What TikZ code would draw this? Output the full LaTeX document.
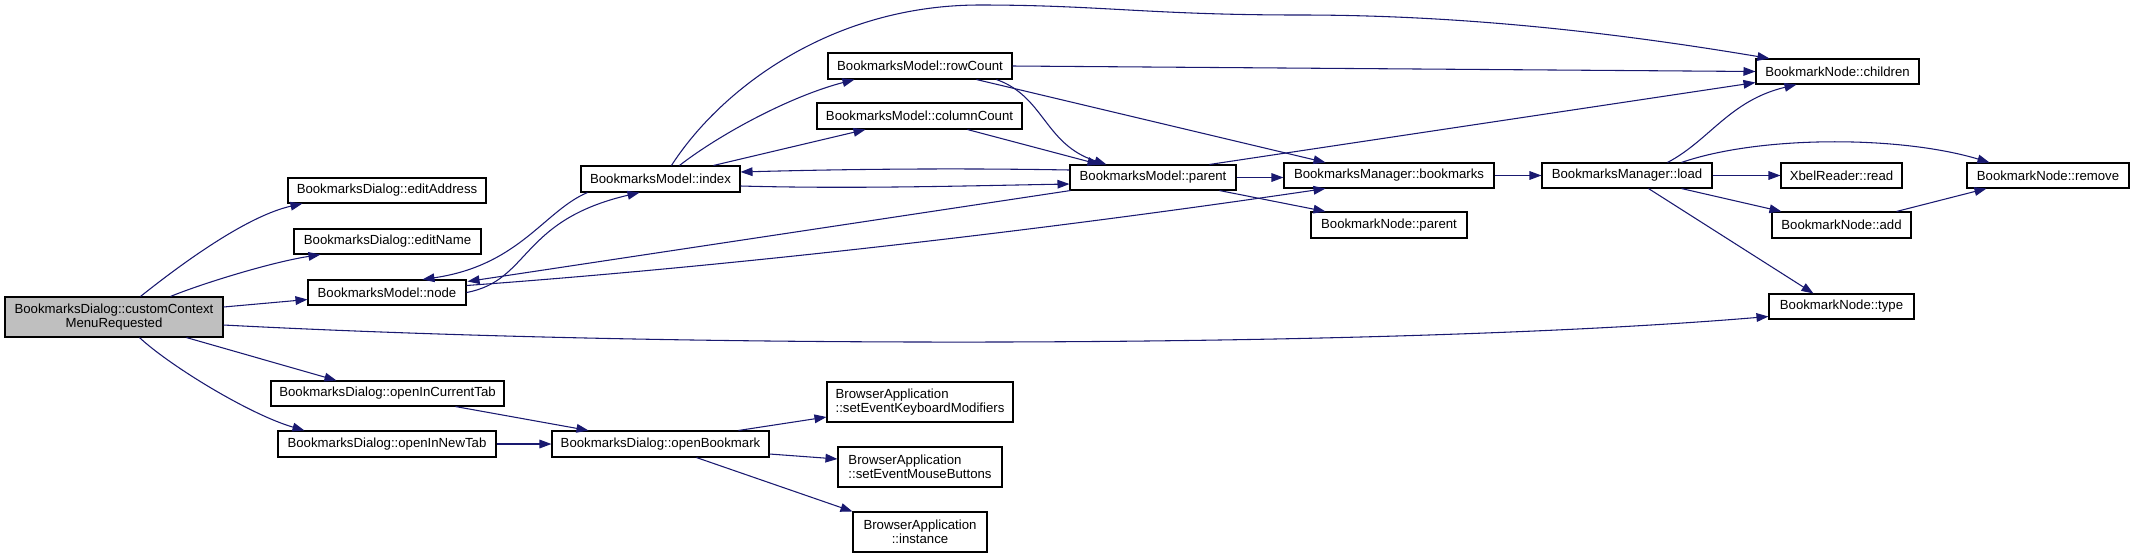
\documentclass[tikz,border=0pt]{standalone}
\usepackage{fontspec}
\setmainfont{Liberation Sans}
\usetikzlibrary{arrows.meta,calc}
\definecolor{edgeblue}{HTML}{191970}
\definecolor{ccgray}{HTML}{BFBFBF}
\newcommand\mybox[7][]{\node[box,#1,minimum width={(#5-#3)*0.75pt},minimum height={(#6-#4)*0.75pt}] (#2) at ({(#3+#5)/2},{(#4+#6)/2}) {#7};}
\begin{document}
\begin{tikzpicture}[x=0.75pt,y=-0.75pt,
  box/.style={draw=black,line width=0.8pt,fill=white,inner sep=0pt,font=\fontsize{9.9}{10.6}\selectfont},
  edge/.style={draw=edgeblue,line width=0.8pt,-{Triangle[length=9pt,width=6.5pt]}}]
\useasboundingbox (0,0) rectangle (2133,558);
% nodes
\mybox[fill=ccgray,align=center]{cc}{5}{297}{223}{337}{BookmarksDialog::customContext\\MenuRequested}
\mybox{ea}{288}{178}{486}{203}{BookmarksDialog::editAddress}
\mybox{en}{294}{229}{481}{254}{BookmarksDialog::editName}
\mybox{mn}{308}{280}{466}{305}{BookmarksModel::node}
\mybox{oct}{271}{381}{504}{406}{BookmarksDialog::openInCurrentTab}
\mybox{ont}{278}{431}{496}{457}{BookmarksDialog::openInNewTab}
\mybox{ob}{552}{431}{769}{457}{BookmarksDialog::openBookmark}
\mybox{idx}{581}{166}{740}{192}{BookmarksModel::index}
\mybox{rc}{828}{53}{1012}{79}{BookmarksModel::rowCount}
\mybox{colc}{817}{103}{1022}{129}{BookmarksModel::columnCount}
\mybox{mp}{1070}{165}{1236}{190}{BookmarksModel::parent}
\mybox{bm}{1284}{163}{1494}{188}{BookmarksManager::bookmarks}
\mybox{np}{1311}{212}{1467}{238}{BookmarkNode::parent}
\mybox{ch}{1756}{59}{1919}{84}{BookmarkNode::children}
\mybox{ld}{1542}{163}{1712}{188}{BookmarksManager::load}
\mybox{xr}{1781}{163}{1902}{188}{XbelReader::read}
\mybox{rm}{1967}{163}{2129}{188}{BookmarkNode::remove}
\mybox{add}{1772}{212}{1911}{238}{BookmarkNode::add}
\mybox{ty}{1769}{294}{1914}{319}{BookmarkNode::type}
\mybox[align=left]{kb}{827}{382}{1013}{422}{BrowserApplication\\::setEventKeyboardModifiers}
\mybox[align=left]{mb}{838}{447}{1002}{487}{BrowserApplication\\::setEventMouseButtons}
\mybox[align=center]{ins}{853}{512}{987}{552}{BrowserApplication\\::instance}
% edges
\draw[edge] ($(cc.north west)+(136,0)$) .. controls +(49,-39) and +(-53,12) .. ($(ea.south west)+(15,0)$);
\draw[edge] ($(cc.north west)+(166,0)$) .. controls +(29,-12) and +(-51,8) .. ($(en.south west)+(27,0)$);
\draw[edge] ($(cc.east)+(0,-10)$) -- ($(mn.west)+(0,7)$);
\draw[edge] ($(cc.east)+(0,8)$) .. controls +(477,25) and +(-369,31) .. ($(ty.west)+(0,10)$);
\draw[edge] ($(cc.south west)+(182,0)$) -- ($(oct.north west)+(66,0)$);
\draw[edge] ($(cc.south west)+(135,0)$) .. controls +(30,28) and +(-55,-16) .. ($(ont.north west)+(27,0)$);
\draw[edge] ($(oct.south west)+(185,0)$) -- ($(ob.north west)+(37,0)$);
\draw[edge] (ont.east) -- (ob.west);
\draw[edge] ($(ob.north west)+(187,0)$) -- ($(kb.west)+(0,15)$);
\draw[edge] ($(ob.east)+(0,10)$) -- ($(mb.west)+(0,-8)$);
\draw[edge] ($(ob.south west)+(145,0)$) -- (ins.north west);
\draw[edge] (mn.east) .. controls +(64,-12) and +(-120,28) .. ($(idx.south west)+(59,0)$);
\draw[edge] ($(idx.south west)+(7,0)$) .. controls +(-43,18) and +(97,-14) .. ($(mn.north west)+(115,0)$);
\draw[edge] ($(idx.north west)+(99,0)$) .. controls +(40,-31) and +(-65,17) .. ($(rc.south west)+(27,0)$);
\draw[edge] ($(idx.north west)+(133,0)$) -- ($(colc.south west)+(49,0)$);
\draw[edge] ($(idx.east)+(0,7)$) .. controls +(110,3) and +(-110,2) .. ($(mp.west)+(0,6.5)$);
\draw[edge] ($(mp.west)+(0,-7.5)$) .. controls +(-110,-2) and +(110,-3) .. ($(idx.east)+(0,-7)$);
\draw[edge] ($(idx.north west)+(91,0)$) .. controls (720,90) and (830,5) .. (980,5) .. controls (1100,5) and (1150,15) .. (1300,15) .. controls (1450,15) and (1600,30) .. ($(ch.north west)+(14,0)$);
\draw[edge] (rc.east) -- (ch.west);
\draw[edge] ($(rc.south west)+(169,0)$) .. controls +(48,17) and +(-62,-20) .. ($(mp.north west)+(37,0)$);
\draw[edge] ($(rc.south west)+(149,0)$) -- ($(bm.north west)+(42,0)$);
\draw[edge] ($(colc.south west)+(151,0)$) -- ($(mp.north west)+(30,0)$);
\draw[edge] ($(mp.north west)+(140,0)$) -- ($(ch.south west)+(0,-2)$);
\draw[edge] (mp.east) -- (mp.east -| bm.west);
\draw[edge] ($(mp.south west)+(150,0)$) -- ($(np.north west)+(15,0)$);
\draw[edge] ($(mp.south west)+(1,0)$) -- ($(mn.north east)+(1,2)$);
\draw[edge] ($(mn.east)+(0,-7)$) .. controls +(234,-17) and +(-326,48) .. ($(bm.south west)+(42,0)$);
\draw[edge] (bm.east) -- (ld.west);
\draw[edge] ($(ld.north west)+(126,0)$) .. controls +(42,-22) and +(-67,16) .. ($(ch.south west)+(41,0)$);
\draw[edge] ($(ld.north west)+(140,0)$) .. controls +(78,-27) and +(-90,-27) .. ($(rm.north west)+(23,0)$);
\draw[edge] (ld.east) -- (xr.west);
\draw[edge] ($(ld.south west)+(140,0)$) -- ($(add.north west)+(10,0)$);
\draw[edge] ($(ld.south west)+(107,0)$) -- ($(ty.north west)+(45,0)$);
\draw[edge] ($(add.north west)+(125,0)$) -- ($(rm.south west)+(20,0)$);
\end{tikzpicture}
\end{document}
